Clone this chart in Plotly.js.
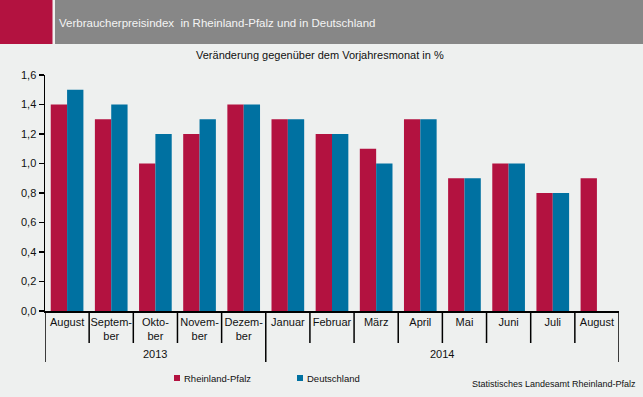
<!DOCTYPE html>
<html>
<head>
<meta charset="utf-8">
<script src="https://cdn.plot.ly/plotly-3.0.1.min.js"></script>
<style>
  html, body { margin: 0; padding: 0; background: #eef0ef; }
  #chart { width: 643px; height: 397px; }
</style>
</head>
<body>
<div id="chart"></div>
<script>
// ---- data ----
const months = ["August", "Septem-<br>ber", "Okto-<br>ber", "Novem-<br>ber", "Dezem-<br>ber",
                "Januar", "Februar", "März", "April", "Mai", "Juni", "Juli", "August"];
const years = ["2013", "2014"];
const yearSpans = [[0, 4], [5, 12]];
const rheinlandPfalz = [1.4, 1.3, 1.0, 1.2, 1.4, 1.3, 1.2, 1.1, 1.3, 0.9, 1.0, 0.8, 0.9];
const deutschland    = [1.5, 1.4, 1.2, 1.3, 1.4, 1.3, 1.2, 1.0, 1.3, 0.9, 1.0, 0.8, null];
const seriesNames = ["Rheinland-Pfalz", "Deutschland"];
const colors = ["#b31240", "#0071a1"];

// ---- geometry helpers (page pixels -> paper coords) ----
const W = 643, H = 397;
const M = { l: 45, r: 24, t: 75, b: 86 };
const PW = W - M.l - M.r, PH = H - M.t - M.b;
const px = x => (x - M.l) / PW;
const py = y => (H - M.b - y) / PH;

const idx = months.map((_, i) => i);

const traces = [
  { type: "bar", x: idx, y: rheinlandPfalz, name: seriesNames[0],
    marker: { color: colors[0] }, showlegend: false, hoverinfo: "y" },
  { type: "bar", x: idx, y: deutschland, name: seriesNames[1],
    marker: { color: colors[1] }, showlegend: false, hoverinfo: "y" }
];

const shapes = [];
const annotations = [];

// category separators
const longAt = new Set([0, 5, months.length]);
for (let i = 0; i <= months.length; i++) {
  shapes.push({ type: "line", xref: "x", yref: "paper",
    x0: i - 0.5, x1: i - 0.5, y0: 0, y1: longAt.has(i) ? py(362) : py(343),
    line: { color: "#000", width: 1.5 } });
}
// year labels
years.forEach((yr, k) => {
  annotations.push({ text: yr, xref: "x", yref: "paper",
    x: (yearSpans[k][0] + yearSpans[k][1]) / 2, y: py(354),
    showarrow: false, xanchor: "center", yanchor: "middle",
    font: { size: 11, color: "#111" } });
});

// header
shapes.push({ type: "rect", xref: "paper", yref: "paper", x0: px(0), x1: px(52.5), y0: py(44), y1: py(0),
  fillcolor: "#b31240", line: { width: 0 }, layer: "below" });
shapes.push({ type: "rect", xref: "paper", yref: "paper", x0: px(55), x1: px(643), y0: py(44), y1: py(0),
  fillcolor: "#878787", line: { width: 0 }, layer: "below" });
annotations.push({ text: "Verbraucherpreisindex  in Rheinland-Pfalz und in Deutschland",
  xref: "paper", yref: "paper", x: px(57), y: py(22.5), xanchor: "left", yanchor: "middle",
  showarrow: false, font: { size: 11.5, color: "#f4f4f4" } });

// subtitle
annotations.push({ text: "Veränderung gegenüber dem Vorjahresmonat in %",
  xref: "paper", yref: "paper", x: px(320), y: py(55), xanchor: "center", yanchor: "middle",
  showarrow: false, font: { size: 11, color: "#111" } });

// legend (custom)
const legendPos = [174, 297];
seriesNames.forEach((n, k) => {
  shapes.push({ type: "rect", xref: "paper", yref: "paper",
    x0: px(legendPos[k]), x1: px(legendPos[k] + 6), y0: py(381), y1: py(375),
    fillcolor: colors[k], line: { width: 0 } });
  annotations.push({ text: n, xref: "paper", yref: "paper",
    x: px(legendPos[k] + 7.5), y: py(378), xanchor: "left", yanchor: "middle",
    showarrow: false, font: { size: 9.5, color: "#111" } });
});

// source
annotations.push({ text: "Statistisches Landesamt Rheinland-Pfalz",
  xref: "paper", yref: "paper", x: px(638), y: py(384), xanchor: "right", yanchor: "middle",
  showarrow: false, font: { size: 9, color: "#111" } });

const layout = {
  width: W, height: H,
  margin: M,
  paper_bgcolor: "#eef0ef", plot_bgcolor: "#eef0ef",
  font: { family: "Liberation Sans, Arial, sans-serif", size: 11, color: "#111" },
  separators: ",.",
  barmode: "group", bargap: 0.26, bargroupgap: 0,
  showlegend: false,
  xaxis: {
    range: [-0.5, months.length - 0.5], tickvals: idx, ticktext: months,
    showline: true, linecolor: "#000", linewidth: 1.5, ticks: "",
    showgrid: false, zeroline: false, tickfont: { size: 11, color: "#111" },
    fixedrange: true
  },
  yaxis: {
    range: [0, 1.6], dtick: 0.2, tickformat: ".1f",
    showline: true, linecolor: "#000", linewidth: 1.5,
    ticks: "outside", ticklen: 5, tickcolor: "#000", tickwidth: 1.5,
    showgrid: false, zeroline: false, tickfont: { size: 11, color: "#111" },
    fixedrange: true
  },
  shapes: shapes,
  annotations: annotations
};

Plotly.newPlot("chart", traces, layout, { displayModeBar: false, staticPlot: true });
</script>
</body>
</html>
